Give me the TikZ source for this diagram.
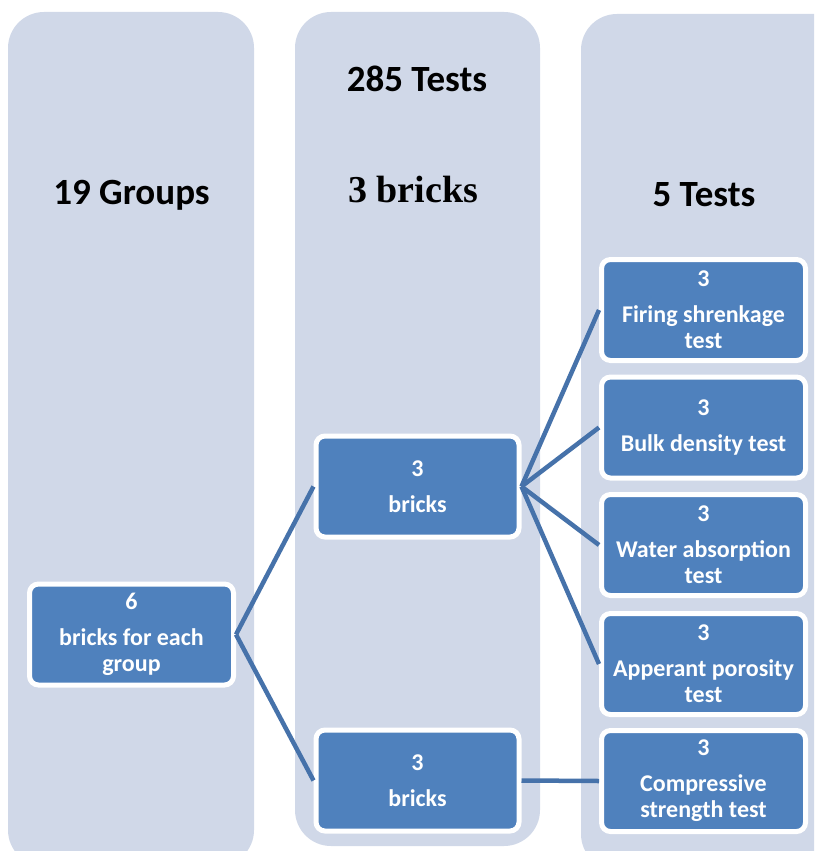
\documentclass[tikz,border=0pt]{standalone}
\usepackage{fontspec}
\setmainfont{Carlito}
\newfontfamily\titleserif{Liberation Serif}
\definecolor{colbg}{HTML}{D0D8E8}
\definecolor{boxblue}{HTML}{4F81BD}
\definecolor{linkblue}{RGB}{70,114,170}
\begin{document}
\begin{tikzpicture}[x=1pt,y=-1pt,
  colpanel/.style={fill=colbg, rounded corners=36pt},
  box/.style={draw=white, line width=5pt, fill=boxblue, rounded corners=9pt,
    text=white, font=\fontsize{24}{26}\selectfont\bfseries, align=flush center,
    inner sep=0pt, text width=200pt, minimum width=204pt, minimum height=101pt},
  conn/.style={draw=linkblue, line width=4.5pt},
  title/.style={font=\fontsize{37}{40}\selectfont\bfseries, anchor=base, inner sep=0pt}
]
\clip (0,0) rectangle (814,851);
\fill[white] (0,0) rectangle (814,851);
% column panels
\path[colpanel] (8,12) rectangle (254,866);
\path[colpanel] (295,12) rectangle (540,846);
\path[colpanel] (581,14) rectangle (850,870);
% titles
\node[title] (t1) at (131.5,204) {19 Groups};
\node[title] (t2) at (417,91) {285 Tests};
\node[title, font=\fontsize{38}{40}\selectfont\bfseries\titleserif] (t3) at (413,202) {3 bricks};
\node[title] (t4) at (704,206) {5 Tests};
% boxes
\node[box] (a) at (131.5,634.5) {6\\[10pt]bricks for each\\group};
\node[box, minimum width=203pt] (b) at (417.5,486.5) {3\\[10pt]bricks};
\node[box, minimum width=203pt] (c) at (417.5,780.5) {3\\[10pt]bricks};
\node[box] (r1) at (703.5,310) {3\\[10pt]Firing shrenkage\\test};
\node[box] (r2) at (703.5,427.5) {3\\[10pt]Bulk density test};
\node[box] (r3) at (703.5,545) {3\\[10pt]Water absorption\\test};
\node[box] (r4) at (703.5,664) {3\\[10pt]Apperant porosity\\test};
\node[box] (r5) at (703.5,781) {3\\[10pt]Compressive\\strength test};
% connectors
\draw[conn] (a.east) -- (b.west);
\draw[conn] (a.east) -- (c.west);
\draw[conn] (b.east) -- (r1.west);
\draw[conn] (b.east) -- (r2.west);
\draw[conn] (b.east) -- (r3.west);
\draw[conn] (b.east) -- (r4.west);
\draw[conn] (c.east) -- (r5.west);
\end{tikzpicture}
\end{document}
